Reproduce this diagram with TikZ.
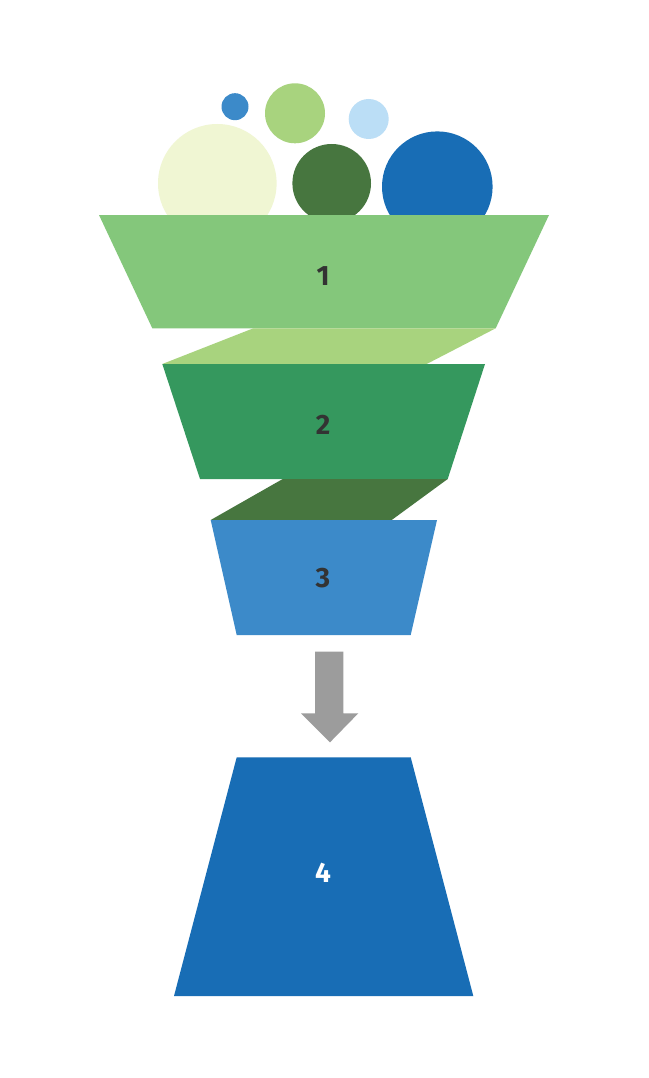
\documentclass[tikz,border=0pt]{standalone}
\usepackage{fontspec}
\setmainfont{Fira Sans}
\begin{document}
\begin{tikzpicture}[x=1pt,y=-1pt,
  lbl/.style={font=\fontsize{28}{30}\selectfont\bfseries, text=labeldark, inner sep=0pt}]
\definecolor{gA}{HTML}{84C77B}
\definecolor{gB}{HTML}{A8D37E}
\definecolor{gC}{HTML}{35985E}
\definecolor{gD}{HTML}{47763F}
\definecolor{bA}{HTML}{3C8AC9}
\definecolor{bB}{HTML}{186DB5}
\definecolor{bC}{HTML}{BBDEF6}
\definecolor{pale}{HTML}{F0F6D3}
\definecolor{arrowgray}{HTML}{9C9C9C}
\definecolor{labeldark}{HTML}{333333}
\useasboundingbox[fill=white] (0,0) rectangle (648,1078);
% circles
\fill[bA] (235,106.7) circle[radius=13.5];
\fill[gB] (295,113.3) circle[radius=30];
\fill[bC] (368.7,119) circle[radius=20];
\fill[pale] (217.3,183.3) circle[radius=59.3];
\fill[gD] (331.7,183.3) circle[radius=39.3];
\fill[bB] (437.3,186.7) circle[radius=55.3];
% level 1
\fill[gA] (99,215) -- (549,215) -- (495.7,328.3) -- (152.3,328.3) -- cycle;
\fill[gB] (253.3,328.3) -- (495.7,328.3) -- (426.7,364) -- (162.3,364) -- cycle;
% level 2
\fill[gC] (162.3,364) -- (485,364) -- (447.7,479) -- (200,479) -- cycle;
\fill[gD] (282.7,479) -- (447.7,479) -- (391.7,520) -- (210.7,520) -- cycle;
% level 3
\fill[bA] (210.7,520) -- (437,520) -- (410.7,635) -- (236.7,635) -- cycle;
% arrow
\fill[arrowgray] (315,651.7) -- (343.3,651.7) -- (343.3,713.3) -- (358.3,713.3) -- (330,742.3) -- (301,713.3) -- (315,713.3) -- cycle;
% level 4
\fill[bB] (236.7,757.3) -- (410.7,757.3) -- (473.3,996) -- (174,996) -- cycle;
% labels
\node[lbl] (l1) at (323,276) {1};
\node[lbl] (l2) at (323,425) {2};
\node[lbl] (l3) at (323,578) {3};
\node[lbl, text=white] (l4) at (323,873) {4};
\end{tikzpicture}
\end{document}
